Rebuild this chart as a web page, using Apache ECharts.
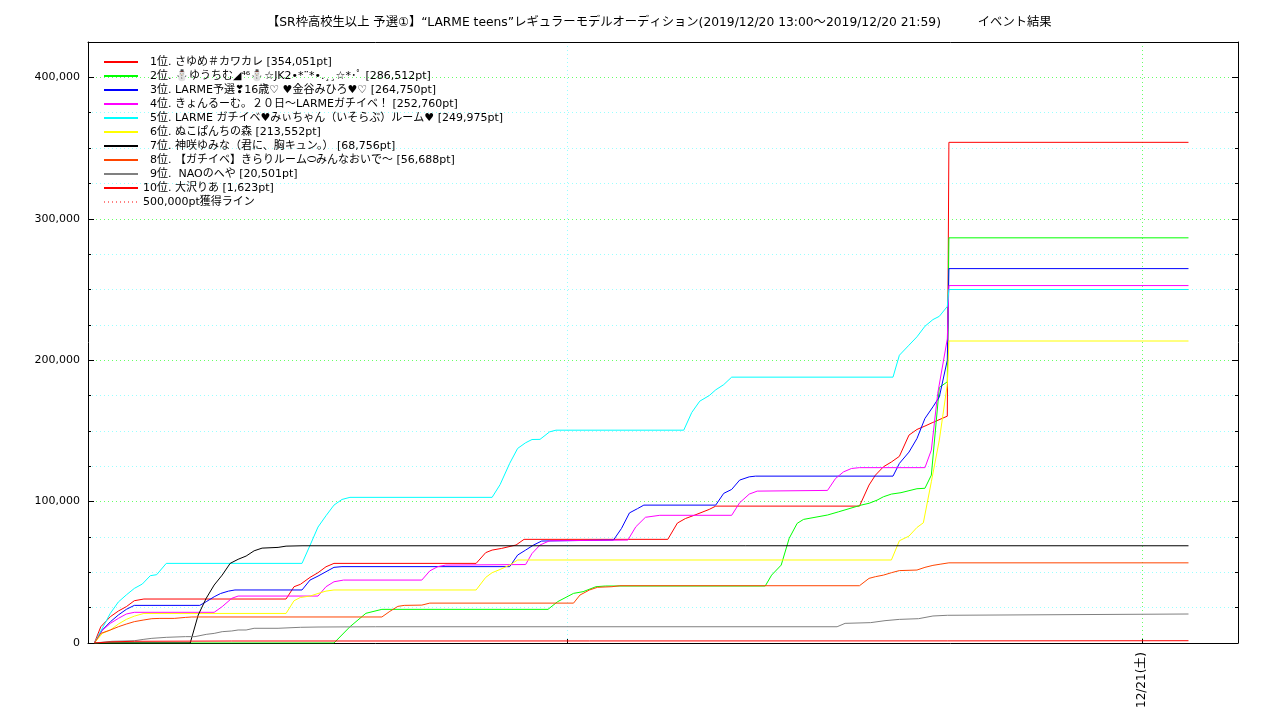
<!DOCTYPE html>
<html>
<head>
<meta charset="utf-8">
<script src="https://cdn.jsdelivr.net/npm/echarts@6/dist/echarts.min.js"></script>
<style>
  html, body { margin: 0; padding: 0; background: #fff; }
  #chart { width: 1280px; height: 720px; }
</style>
</head>
<body>
<div id="chart"></div>
<script>
// Event: 2019/12/20 13:00 - 21:59, final results posted afterwards.
// Times are clock times; anything before noon belongs to 12/21.

const chartTitle = '【SR枠高校生以上 予選①】“LARME teens”レギュラーモデルオーディション(2019/12/20 13:00～2019/12/20 21:59)\u3000\u3000\u3000イベント結果';

const seriesNames = [
  '\u20071位. さゆめ＃カワカレ [354,051pt]',
  '\u20072位. ⛄ゆうちむ◢⁴⁶⛄☆JK2•*¨*•.¸¸☆*･ﾟ [286,512pt]',
  '\u20073位. LARME予選❣16歳♡ ♥金谷みひろ♥♡ [264,750pt]',
  '\u20074位. きょんるーむ。２０日〜LARMEガチイベ！ [252,760pt]',
  '\u20075位. LARME ガチイベ♥みぃちゃん（いそらぶ）ルーム♥ [249,975pt]',
  '\u20076位. ぬこぱんちの森 [213,552pt]',
  '\u20077位. 神咲ゆみな（君に、胸キュン。） [68,756pt]',
  '\u20078位. 【ガチイベ】きらりルーム⬭みんなおいで〜 [56,688pt]',
  '\u20079位.  NAOのへや [20,501pt]',
  '10位. 大沢りあ [1,623pt]'
];
const goalName = '500,000pt獲得ライン';

const seriesColors = ['#ff0000', '#00ff00', '#0000ff', '#ff00ff', '#00ffff',
                      '#ffff00', '#000000', '#ff4500', '#808080', '#ff0000'];

const rank1 = [
  ['13:04', 0], ['13:08', 11500], ['13:14', 18600], ['13:19', 22600], ['13:24', 25700],
  ['13:29', 29900], ['13:35', 31100], ['15:04', 31100], ['15:09', 39800], ['15:13', 41500],
  ['15:19', 46400], ['15:24', 49700], ['15:29', 53900], ['15:34', 56300], ['17:03', 56300],
  ['17:09', 63900], ['17:13', 65700], ['17:19', 66900], ['17:28', 69300], ['17:33', 73300],
  ['19:03', 73300], ['19:09', 84800], ['19:14', 88000], ['19:20', 90500], ['19:29', 94500],
  ['19:33', 96800], ['21:03', 96800], ['21:09', 111700], ['21:13', 118700], ['21:18', 124600],
  ['21:23', 128000], ['21:28', 132000], ['21:34', 147000], ['21:39', 151000], ['21:44', 153400],
  ['21:49', 156000], ['21:58', 160400], ['21:59', 354051], ['00:29', 354051]
];
const rank2 = [
  ['13:04', 0], ['15:34', 0], ['15:44', 11500], ['15:54', 21000], ['16:04', 23800],
  ['17:48', 23800], ['17:54', 29200], ['18:04', 35100], ['18:10', 36300], ['18:18', 39800],
  ['18:24', 40300], ['20:04', 40300], ['20:08', 48000], ['20:14', 55100], ['20:19', 74000],
  ['20:24', 84600], ['20:28', 87400], ['20:43', 90500], ['20:50', 92800], ['21:04', 97500],
  ['21:09', 98800], ['21:14', 101000], ['21:18', 103400], ['21:23', 105300], ['21:29', 106300],
  ['21:34', 107700], ['21:39', 109100], ['21:44', 109400], ['21:48', 118700], ['21:53', 180700],
  ['21:58', 184700], ['21:59', 286512], ['00:29', 286512]
];
const rank3 = [
  ['13:04', 0], ['13:09', 9200], ['13:14', 15000], ['13:19', 19800], ['13:24', 23800],
  ['13:29', 26600], ['14:10', 26600], ['14:14', 29200], ['14:19', 32700], ['14:23', 35000],
  ['14:28', 36700], ['14:32', 37500], ['15:14', 37500], ['15:19', 44500], ['15:24', 47300],
  ['15:29', 50400], ['15:34', 53500], ['15:39', 54000], ['17:24', 54000], ['17:29', 62200],
  ['17:34', 65700], ['17:39', 69300], ['17:44', 72100], ['18:29', 72800], ['18:34', 81000],
  ['18:39', 92000], ['18:44', 95000], ['18:48', 97500], ['19:33', 97500], ['19:38', 105800],
  ['19:43', 108600], ['19:48', 115200], ['19:54', 117500], ['19:58', 118000], ['21:24', 118000],
  ['21:28', 127000], ['21:34', 135000], ['21:39', 144600], ['21:44', 158800], ['21:49', 167000],
  ['21:53', 174000], ['21:58', 200000], ['21:59', 264750], ['00:29', 264750]
];
const rank4 = [
  ['13:04', 0], ['13:08', 8000], ['13:14', 13900], ['13:19', 17400], ['13:24', 20500],
  ['13:29', 21700], ['14:19', 21700], ['14:24', 25700], ['14:30', 31600], ['14:34', 33200],
  ['15:24', 33200], ['15:29', 39800], ['15:34', 43300], ['15:40', 44500], ['16:29', 44500],
  ['16:34', 51000], ['16:39', 54000], ['16:44', 55100], ['17:34', 55500], ['17:38', 63300],
  ['17:43', 69300], ['17:49', 72300], ['18:38', 72800], ['18:43', 82200], ['18:49', 88900],
  ['18:58', 90300], ['19:43', 90300], ['19:48', 99200], ['19:54', 105300], ['19:59', 107400],
  ['20:43', 107900], ['20:48', 116300], ['20:53', 121000], ['20:58', 123400], ['21:03', 124000],
  ['21:44', 124000], ['21:48', 136400], ['21:52', 176500], ['21:58', 215000], ['21:59', 252760],
  ['00:29', 252760]
];
const rank5 = [
  ['13:04', 0], ['13:14', 21000], ['13:19', 29000], ['13:24', 34000], ['13:29', 38600],
  ['13:34', 41700], ['13:39', 47600], ['13:43', 48300], ['13:49', 56300], ['15:14', 56300],
  ['15:19', 69000], ['15:24', 82000], ['15:29', 90000], ['15:34', 97500], ['15:39', 101500],
  ['15:44', 103000], ['17:13', 103000], ['17:18', 112000], ['17:24', 127000], ['17:29', 137600],
  ['17:34', 141600], ['17:38', 143900], ['17:43', 144000], ['17:49', 149300], ['17:53', 150500],
  ['19:13', 150500], ['19:18', 163000], ['19:23', 171000], ['19:29', 175000], ['19:33', 179000],
  ['19:38', 182700], ['19:43', 188000], ['21:24', 188000], ['21:28', 203500], ['21:34', 210600],
  ['21:39', 216500], ['21:44', 224000], ['21:49', 228700], ['21:53', 231000], ['21:58', 238000],
  ['21:59', 249975], ['00:29', 249975]
];
const rank6 = [
  ['13:04', 0], ['13:09', 6800], ['13:14', 9200], ['13:19', 13400], ['13:24', 16700],
  ['13:29', 19000], ['13:35', 20900], ['15:04', 20900], ['15:09', 29900], ['15:13', 32200],
  ['15:19', 33200], ['15:24', 35000], ['15:29', 36700], ['15:34', 37500], ['17:03', 37500],
  ['17:09', 46400], ['17:13', 49700], ['17:18', 52000], ['17:24', 55100], ['17:29', 58700],
  ['21:23', 58700], ['21:28', 72300], ['21:34', 75600], ['21:39', 81700], ['21:43', 85000],
  ['21:48', 114000], ['21:53', 143500], ['21:58', 183000], ['21:59', 213552], ['00:29', 213552]
];
const rank7 = [
  ['13:04', 0], ['14:04', 0], ['14:09', 19800], ['14:14', 31600], ['14:19', 41000],
  ['14:24', 48000], ['14:29', 56300], ['14:34', 59200], ['14:39', 61500], ['14:44', 65200],
  ['14:49', 67100], ['14:59', 67600], ['15:04', 68500], ['15:14', 68756], ['00:29', 68756]
];
const rank8 = [
  ['13:04', 0], ['13:08', 6800], ['13:14', 9200], ['13:19', 11500], ['13:24', 13400],
  ['13:29', 15100], ['13:35', 16300], ['13:40', 17200], ['13:45', 17400], ['13:54', 17400],
  ['14:01', 18100], ['14:05', 18400], ['16:04', 18400], ['16:09', 22400], ['16:14', 25900],
  ['16:18', 26600], ['16:29', 26800], ['16:34', 28200], ['18:04', 28200], ['18:08', 33900],
  ['18:14', 37500], ['18:19', 39400], ['18:28', 39800], ['18:33', 40500], ['21:03', 40500],
  ['21:09', 45700], ['21:13', 46900], ['21:18', 48000], ['21:23', 49700], ['21:28', 51200],
  ['21:39', 51600], ['21:44', 53500], ['21:49', 54900], ['21:54', 55800], ['21:59', 56688],
  ['00:29', 56688]
];
const rank9 = [
  ['13:04', 0], ['13:15', 1200], ['13:29', 1600], ['13:35', 2600], ['13:40', 3300],
  ['13:49', 4000], ['14:01', 4500], ['14:07', 4500], ['14:14', 6100], ['14:19', 6800],
  ['14:24', 8000], ['14:30', 8500], ['14:34', 9200], ['14:39', 9200], ['14:44', 10400],
  ['14:59', 10400], ['15:13', 11100], ['15:24', 11300], ['16:00', 11500], ['20:49', 11500],
  ['20:54', 13900], ['21:10', 14400], ['21:19', 15800], ['21:28', 16700], ['21:40', 17200],
  ['21:49', 19100], ['21:58', 19600], ['21:59', 20501], ['00:29', 20501]
];
const rank10 = [
  ['13:04', 0], ['13:14', 800], ['13:29', 1200], ['14:30', 1400], ['21:58', 1500],
  ['21:59', 1623], ['00:29', 1623]
];
const goalLine = [['13:00', 500000], ['00:29', 500000]];

const rankData = [rank1, rank2, rank3, rank4, rank5, rank6, rank7, rank8, rank9, rank10];

// x axis: minutes since 12/20 00:00, 13:00 to 01:00 next day
const xStart = '13:00', xEnd = '01:00';
const dayLabel = { '00:00': '12/21(土)' };
const gridMarks = { '18:00': 'minor', '00:00': 'major' };

// y axis ticks
const yMax = 425000, yMajor = 100000, yMinor = 25000, yTopLabel = 400000;

function toMin(t) {
  const [h, m] = t.split(':').map(Number);
  return (h < 12 ? h + 24 : h) * 60 + m;
}
function fmtMin(v) {
  const h = Math.floor(v / 60) % 24, m = v % 60;
  return String(h).padStart(2, '0') + ':' + String(m).padStart(2, '0');
}

const FONT = "'DejaVu Sans', 'Noto Sans CJK JP', sans-serif";
const GREEN_GRID = '#66ff66', CYAN_GRID = '#99ffff';

const xMin = toMin(xStart), xMax = toMin(xEnd);
// one split line per hour; only the marked hours are visible
const xSplitColors = [];
for (let v = xMin; v <= xMax; v += 60) {
  const kind = gridMarks[fmtMin(v)];
  xSplitColors.push(kind === 'major' ? GREEN_GRID : kind === 'minor' ? CYAN_GRID : 'rgba(0,0,0,0)');
}
const xTickValues = Object.keys(gridMarks).map(toMin);

const series = rankData.map((pts, i) => ({
  name: seriesNames[i],
  type: 'line',
  symbol: 'none',
  xAxisIndex: 0,
  yAxisIndex: 0,
  lineStyle: { color: seriesColors[i], width: 1 },
  itemStyle: { color: seriesColors[i] },
  data: pts.map(([t, v]) => [toMin(t), v])
}));
series.push({
  name: goalName,
  type: 'line',
  symbol: 'none',
  lineStyle: { color: '#ff8080', width: 1, type: [1, 3] },
  itemStyle: { color: '#ff8080' },
  data: goalLine.map(([t, v]) => [toMin(t), v])
});

const baseY = { type: 'value', min: 0, max: yMax, axisLabel: { show: false },
                splitLine: { show: false }, axisLine: { show: false } };
const baseX = { type: 'value', min: xMin, max: xMax, axisLabel: { show: false },
                splitLine: { show: false }, axisLine: { show: false }, axisTick: { show: false } };

const option = {
  animation: false,
  backgroundColor: '#fff',
  textStyle: { fontFamily: FONT },
  title: {
    text: chartTitle,
    left: 262,
    top: 12,
    textStyle: { fontFamily: FONT, fontSize: 12.3, fontWeight: 'normal', color: '#000' }
  },
  legend: {
    data: seriesNames.concat([goalName]),
    orient: 'vertical',
    left: 103,
    top: 55,
    itemWidth: 34,
    itemHeight: 14,
    itemGap: 0,
    padding: 0,
    itemStyle: { color: 'rgba(0,0,0,0)', borderWidth: 0 },
    textStyle: { fontFamily: FONT, fontSize: 11, color: '#000', lineHeight: 14 }
  },
  grid: { left: 88, right: 42, top: 42, bottom: 77, containLabel: false },
  xAxis: [
    Object.assign({}, baseX, {
      position: 'bottom',
      interval: 60,
      axisLine: { show: true, onZero: false, lineStyle: { color: '#000', width: 1 } },
      axisLabel: {
        show: true, rotate: 90, margin: 9, fontSize: 12, color: '#000', fontFamily: FONT,
        formatter: v => dayLabel[fmtMin(v)] || ''
      },
      splitLine: { show: true, lineStyle: { color: xSplitColors, type: [1, 3], width: 1 } }
    }),
    Object.assign({}, baseX, {
      position: 'bottom',
      axisTick: { show: true, inside: true, length: 4, customValues: xTickValues,
                  lineStyle: { color: '#000' } }
    }),
    Object.assign({}, baseX, {
      position: 'top',
      axisLine: { show: true, onZero: false, lineStyle: { color: '#000', width: 1 } }
    })
  ],
  yAxis: [
    Object.assign({}, baseY, {
      position: 'left',
      interval: yMinor,
      axisLine: { show: true, onZero: false, lineStyle: { color: '#000', width: 1 } },
      axisTick: { show: true, inside: true, length: 3, lineStyle: { color: '#000' } },
      axisLabel: {
        show: true, margin: 8, fontSize: 11, color: '#000', fontFamily: FONT,
        formatter: v => (v % yMajor === 0 && v <= yTopLabel) ? v.toLocaleString('en-US') : ''
      },
      splitLine: { show: true, lineStyle: { color: [GREEN_GRID, CYAN_GRID, CYAN_GRID, CYAN_GRID],
                                            type: [1, 3], width: 1 } }
    }),
    Object.assign({}, baseY, {
      position: 'left',
      interval: yMajor,
      axisTick: { show: true, inside: true, length: 6, lineStyle: { color: '#000' } }
    }),
    Object.assign({}, baseY, {
      position: 'right',
      interval: yMajor,
      axisLine: { show: true, onZero: false, lineStyle: { color: '#000', width: 1 } },
      axisTick: { show: true, inside: true, length: 6, lineStyle: { color: '#000' } }
    }),
    Object.assign({}, baseY, {
      position: 'right',
      interval: yMinor,
      axisTick: { show: true, inside: true, length: 3, lineStyle: { color: '#000' } }
    })
  ],
  series: series
};

const chart = echarts.init(document.getElementById('chart'), null, { renderer: 'canvas' });
chart.setOption(option);
</script>
</body>
</html>
